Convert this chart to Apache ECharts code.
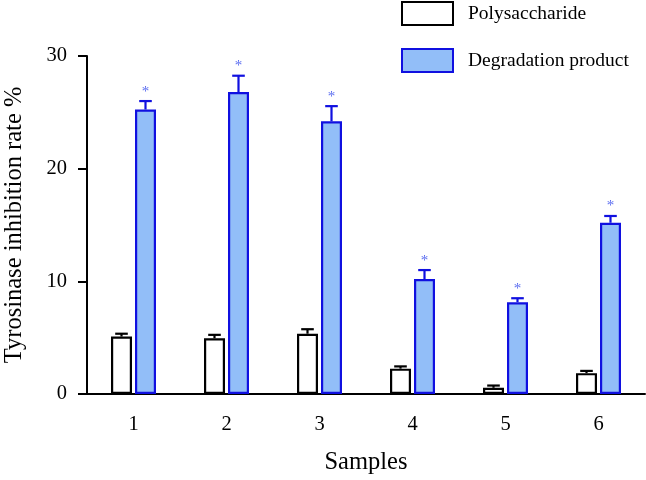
<!DOCTYPE html>
<html><head><meta charset="utf-8">
<script src="https://cdn.jsdelivr.net/npm/echarts@6/dist/echarts.min.js"></script>
<style>html,body{margin:0;padding:0;background:#fff}#c{width:646px;height:480px}</style>
</head><body><div id="c"></div>
<script>
var categories = ['1','2','3','4','5','6'];
var polyValues = [5.1, 4.95, 5.35, 2.25, 0.55, 1.85];
var polyErr = [0.25, 0.3, 0.4, 0.2, 0.2, 0.2];
var degValues = [25.25, 26.8, 24.2, 10.2, 8.15, 15.2];
var degErr = [0.75, 1.45, 1.35, 0.8, 0.35, 0.6];
var starLabels = ['*','*','*','*','*','*'];
var yTicks = [0, 10, 20, 30];

var FONT = '"Liberation Serif","Times New Roman",serif';
var BAR_W = 21, GAP = 3;
var BLUE_EDGE = '#1010e0', BLUE_FILL = '#92bef8', STAR = '#5a6cf0';

function errSeries(name, vals, errs, offsetSign, color, stars) {
  var data = vals.map(function (v, i) { return [i, v, v + errs[i]]; });
  return {
    type: 'custom', name: name + ' err', silent: true, z: 5,
    data: data,
    renderItem: function (params, api) {
      var i = api.value(0);
      var base = api.coord([i, api.value(1)]);
      var top = api.coord([i, api.value(2)]);
      var x = base[0] + offsetSign * (BAR_W + GAP) / 2;
      var capHalf = BAR_W * 0.3;
      var style = { stroke: color, lineWidth: 2.2 };
      var children = [
        { type: 'line', shape: { x1: x, y1: base[1], x2: x, y2: top[1] }, style: style },
        { type: 'line', shape: { x1: x - capHalf, y1: top[1], x2: x + capHalf, y2: top[1] }, style: style }
      ];
      if (stars) {
        children.push({ type: 'text', style: { text: stars[i], x: x, y: top[1] - 2, textAlign: 'center', textVerticalAlign: 'bottom', fill: STAR, font: '15px ' + FONT } });
      }
      return { type: 'group', children: children };
    }
  };
}

var chart = echarts.init(document.getElementById('c'), null, { renderer: 'canvas' });
chart.setOption({
  animation: false,
  backgroundColor: '#fff',
  grid: { left: 87, right: 1, top: 56, bottom: 86, containLabel: false, outerBoundsMode: 'none' },
  legend: {
    orient: 'vertical', left: 401, top: 1, padding: 0, itemWidth: 51, itemHeight: 23, itemGap: 22,
    icon: 'rect',
    textStyle: { fontFamily: FONT, fontSize: 19.5, color: '#000', padding: [0, 0, 0, 10] },
    data: ['Polysaccharide', 'Degradation product']
  },
  xAxis: {
    type: 'category', data: categories,
    name: 'Samples', nameLocation: 'middle', nameGap: 56,
    nameTextStyle: { fontFamily: FONT, fontSize: 24.5, color: '#000' },
    axisLine: { lineStyle: { color: '#000', width: 2 } },
    axisTick: { alignWithLabel: true, length: 9, lineStyle: { color: '#000', width: 2 } },
    axisLabel: { fontFamily: FONT, fontSize: 20.5, color: '#000', margin: 20 }
  },
  yAxis: {
    type: 'value', min: yTicks[0], max: yTicks[yTicks.length - 1], interval: 10,
    name: 'Tyrosinase inhibition rate %', nameLocation: 'middle', nameGap: 60,
    nameTextStyle: { fontFamily: FONT, fontSize: 24.5, color: '#000' },
    axisLine: { show: true, lineStyle: { color: '#000', width: 2 } },
    axisTick: { show: true, length: 9, lineStyle: { color: '#000', width: 2 } },
    axisLabel: { fontFamily: FONT, fontSize: 20.5, color: '#000', margin: 20 },
    splitLine: { show: false }
  },
  series: [
    { type: 'bar', name: 'Polysaccharide', data: polyValues, barWidth: BAR_W, barGap: (GAP / BAR_W * 100) + '%',
      itemStyle: { color: '#fff', borderColor: '#000', borderWidth: 2.2 } },
    { type: 'bar', name: 'Degradation product', data: degValues, barWidth: BAR_W,
      itemStyle: { color: BLUE_FILL, borderColor: BLUE_EDGE, borderWidth: 2.2 } },
    errSeries('Polysaccharide', polyValues, polyErr, -1, '#000', null),
    errSeries('Degradation product', degValues, degErr, 1, BLUE_EDGE, starLabels)
  ]
});
</script></body></html>
